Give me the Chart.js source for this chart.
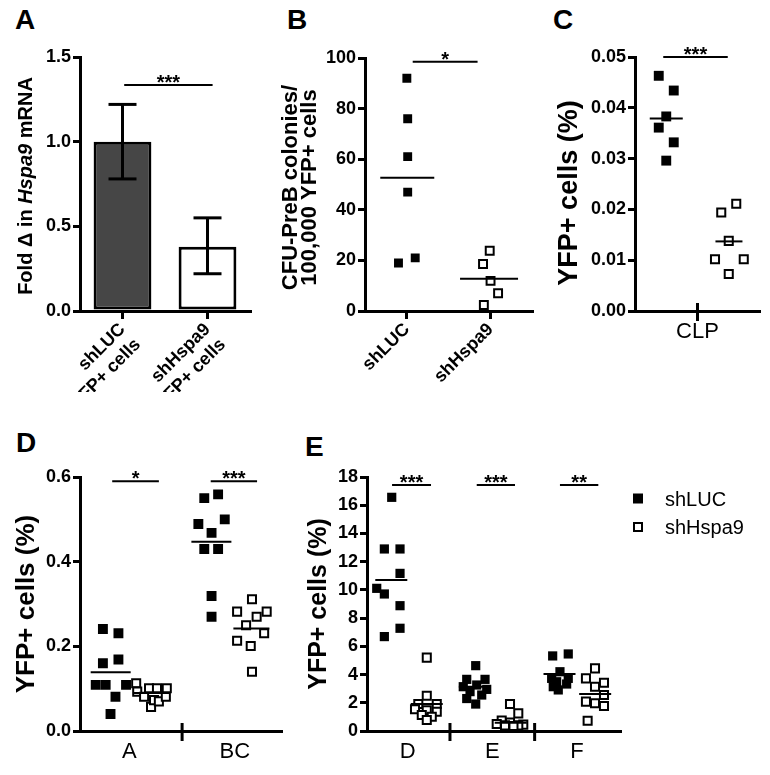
<!DOCTYPE html>
<html>
<head>
<meta charset="utf-8">
<script src="https://cdn.jsdelivr.net/npm/chart.js@4.4.1/dist/chart.umd.min.js"></script>
<style>
  body { margin: 0; background: #fff; }
  #page { position: relative; width: 770px; height: 775px; overflow: hidden; font-family: "Liberation Sans", Arial, sans-serif; }
  canvas { position: absolute; }
  .tag { position: absolute; font-size: 28px; font-weight: bold; line-height: 28px; }
</style>
</head>
<body>
<div id="page">
  <div class="tag" style="left:15px;top:6px">A</div>
  <div class="tag" style="left:287px;top:6px">B</div>
  <div class="tag" style="left:553px;top:6px">C</div>
  <div class="tag" style="left:16px;top:429px">D</div>
  <div class="tag" style="left:305px;top:433px">E</div>
  <canvas id="chartA" width="260" height="362" style="left:0;top:30px"></canvas>
  <canvas id="chartB" width="290" height="370" style="left:250px;top:30px"></canvas>
  <canvas id="chartC" width="230" height="370" style="left:540px;top:30px"></canvas>
  <canvas id="chartD" width="290" height="355" style="left:0;top:420px"></canvas>
  <canvas id="chartE" width="480" height="355" style="left:290px;top:420px"></canvas>
</div>
<script>
// ---------- data ----------
// A: fold change in Hspa9 mRNA
const aLabels = [['shLUC', 'YFP+ cells'], ['shHspa9', 'YFP+ cells']];
const aValues = [1.0, 0.38];
const aErrLow = [0.78, 0.22];
const aErrHigh = [1.22, 0.55];
const aSig = [[0.02, 1.06, 1.335, '***']];

// B: CFU-PreB colonies
const bLabels = ['shLUC', 'shHspa9'];
const bLuc = [92, 76, 61, 47, 19, 21];
const bLucX = [0, 0.01, 0.01, 0.01, -0.1, 0.1];
const bHspa = [23.8, 18.6, 11.9, 7.0, 2.4];
const bHspaX = [0.99, 0.91, 1.0, 1.09, 0.92];
const bMeans = [[52.7], [12.7]];
const bSig = [[0.07, 0.845, 98.5, '*']];

// C: CLP
const cLabels = ['CLP'];
const cLuc = [0.0463, 0.0434, 0.0383, 0.0361, 0.0332, 0.0296];
const cLucX = [-0.31, -0.19, -0.25, -0.31, -0.19, -0.25];
const cHspa = [0.0211, 0.0194, 0.0138, 0.0102, 0.0102, 0.0073];
const cHspaX = [0.31, 0.19, 0.25, 0.14, 0.37, 0.25];
const cMeans = [[0.0379], [0.0137]];
const cSig = [[-0.274, 0.242, 0.05, '***']];

// D: fractions A and BC
const dLabels = ['A', 'BC'];
const dLuc = [0.241, 0.231, 0.160, 0.169, 0.109, 0.109, 0.109, 0.081, 0.040,
              0.559, 0.550, 0.500, 0.489, 0.468, 0.430, 0.430, 0.319, 0.270];
const dLucX = [0.750, 0.897, 0.750, 0.897, 0.682, 0.776, 0.969, 0.869, 0.822,
               1.841, 1.710, 1.904, 1.654, 1.779, 1.710, 1.841, 1.779, 1.779];
const dHspa = [0.113, 0.093, 0.081, 0.101, 0.057, 0.073, 0.101, 0.070, 0.081, 0.101,
               0.311, 0.282, 0.282, 0.270, 0.250, 0.231, 0.213, 0.201, 0.140];
const dHspaX = [1.065, 1.075, 1.140, 1.187, 1.206, 1.234, 1.262, 1.280, 1.346, 1.355,
                2.162, 2.021, 2.301, 2.206, 2.106, 2.277, 2.021, 2.150, 2.162];
const dMeans = [[0.139, 0.447], [0.090, 0.242]];
const dSig = [[0.838, 1.28, 0.59, '*'], [1.771, 2.21, 0.59, '***']];

// E: fractions D, E, F
const eLabels = ['D', 'E', 'F'];
const eLuc = [16.56, 12.90, 12.90, 11.17, 10.11, 9.71, 8.88, 7.28, 6.69,
              4.63, 3.66, 3.66, 3.26, 3.14, 2.95, 2.79, 2.55, 2.30, 1.91,
              5.32, 5.46, 4.20, 3.73, 3.73, 3.49, 3.33, 3.14, 2.91];
const eLucX = [0.812, 0.725, 0.910, 0.910, 0.635, 0.725, 0.910, 0.910, 0.725,
               1.804, 1.698, 1.914, 1.816, 1.657, 1.934, 1.737, 1.875, 1.698, 1.804,
               2.713, 2.897, 2.799, 2.701, 2.897, 2.760, 2.878, 2.720, 2.779];
const eHspa = [5.20, 2.50, 1.91, 1.91, 1.54, 1.47, 1.37, 1.13, 1.01, 0.78,
               1.91, 1.25, 0.75, 0.60, 0.50, 0.45, 0.40, 0.40, 0.35,
               4.44, 3.73, 3.42, 3.14, 2.55, 2.08, 1.96, 1.77, 0.73];
const eHspaX = [1.226, 1.226, 1.126, 1.344, 1.087, 1.226, 1.344, 1.167, 1.285, 1.226,
                2.209, 2.307, 2.111, 2.209, 2.052, 2.366, 2.150, 2.307, 2.250,
                3.213, 3.106, 3.319, 3.213, 3.319, 3.106, 3.213, 3.319, 3.126];
const eMeans = [[10.70, 3.14, 4.04], [1.91, 0.59, 2.62]];
const eSig = [[0.816, 1.276, 17.43, '***'], [1.816, 2.268, 17.43, '***'], [2.799, 3.252, 17.43, '**']];

// ---------- helpers ----------
const FONT = '"Liberation Sans", Arial, sans-serif';
Chart.defaults.font.family = FONT;
Chart.defaults.color = '#000';
Chart.defaults.animation = false;
Chart.defaults.events = [];
Chart.defaults.plugins.legend.display = false;
Chart.defaults.plugins.tooltip.enabled = false;

const avg = a => a.reduce((s, v) => s + v, 0) / a.length;
function line(ctx, x1, y1, x2, y2) { ctx.beginPath(); ctx.moveTo(x1, y1); ctx.lineTo(x2, y2); ctx.stroke(); }

function pts(ys, xs) { return ys.map((v, i) => ({ x: xs[i], y: v })); }

// one mean line per category group, centred on that group's points
function meanMarks(xs, means, half) {
  const cats = [...new Set(xs.map(v => Math.round(v) + 0))].sort((a, b) => a - b);
  return cats.map((c, k) => ({ x: avg(xs.filter(v => Math.round(v) + 0 === c)), y: means[k], half }));
}

const filled = (data, r) => ({ data, pointStyle: 'rect', pointRadius: r, backgroundColor: '#000', borderWidth: 0, label: 'shLUC' });
const open = (data, r) => ({ data, pointStyle: 'rect', pointRadius: r, backgroundColor: '#fff', borderColor: '#000', borderWidth: 2, label: 'shHspa9' });

function yScale(min, max, step, digits, width) {
  return {
    min, max,
    afterFit: s => { s.width = width; },
    ticks: { stepSize: step, padding: 2, font: { size: 18, weight: 'bold' }, callback: v => v.toFixed(digits) },
    grid: { drawOnChartArea: false, tickLength: 7, lineWidth: 3, color: '#000' },
    border: { width: 3, color: '#000' }
  };
}

function xGroups(min, max, labels, start, height, rotated) {
  return {
    type: 'linear', min, max,
    afterBuildTicks: s => { s.ticks = labels.map((l, i) => ({ value: start + i })); },
    afterFit: s => { s.height = height; },
    ticks: rotated
      ? { autoSkip: false, minRotation: 45, maxRotation: 45, padding: 0, font: { size: 18, weight: 'bold' }, callback: v => labels[Math.round(v) - start] }
      : { autoSkip: false, minRotation: 0, maxRotation: 0, padding: 8, font: { size: 22 }, callback: v => labels[Math.round(v) - start] },
    grid: rotated
      ? { drawOnChartArea: false, tickLength: 8, lineWidth: 3, color: '#000' }
      : { display: false, drawTicks: false },
    border: { width: 3, color: '#000' }
  };
}

function drawTitle(ctx, area, t) {
  const cy = (area.top + area.bottom) / 2 + (t.dy || 0);
  t.lines.forEach((parts, li) => {
    ctx.save();
    ctx.translate(t.x + li * (t.lh || 0), cy);
    ctx.rotate(-Math.PI / 2);
    const fonts = parts.map(p => (p[1] ? 'italic ' : '') + 'bold ' + t.size + 'px ' + FONT);
    let total = 0;
    const widths = parts.map((p, i) => { ctx.font = fonts[i]; const w = ctx.measureText(p[0]).width; total += w; return w; });
    let x = -total / 2;
    ctx.textBaseline = 'middle';
    ctx.textAlign = 'left';
    ctx.fillStyle = '#000';
    parts.forEach((p, i) => { ctx.font = fonts[i]; ctx.fillText(p[0], x, 0); x += widths[i]; });
    ctx.restore();
  });
}

// error bars, mean lines, significance bars, category dividers, titles, legend
const extras = {
  id: 'extras',
  afterDatasetsDraw(chart, args, o) {
    const ctx = chart.ctx, xs = chart.scales.x, ys = chart.scales.y, area = chart.chartArea;
    ctx.save();
    ctx.strokeStyle = '#000';
    ctx.fillStyle = '#000';
    if (o.errors) {
      ctx.lineWidth = 3;
      o.errors.low.forEach((lo, i) => {
        const px = xs.getPixelForValue(i);
        const p1 = ys.getPixelForValue(lo), p2 = ys.getPixelForValue(o.errors.high[i]);
        line(ctx, px, p1, px, p2);
        line(ctx, px - o.errors.cap, p1, px + o.errors.cap, p1);
        line(ctx, px - o.errors.cap, p2, px + o.errors.cap, p2);
      });
    }
    (o.means || []).forEach(m => {
      const cx = xs.getPixelForValue(m.x), py = ys.getPixelForValue(m.y);
      ctx.lineWidth = 2;
      line(ctx, cx - m.half, py, cx + m.half, py);
    });
    (o.sig || []).forEach(s => {
      const x1 = xs.getPixelForValue(s[0]), x2 = xs.getPixelForValue(s[1]), py = ys.getPixelForValue(s[2]);
      ctx.lineWidth = 2;
      line(ctx, x1, py, x2, py);
      ctx.font = 'bold 20px ' + FONT;
      ctx.textAlign = 'center';
      ctx.textBaseline = 'alphabetic';
      ctx.fillText(s[3], (x1 + x2) / 2, py + 4);
    });
    (o.dividers || []).forEach(v => {
      const px = xs.getPixelForValue(v);
      ctx.lineWidth = 3;
      line(ctx, px, area.bottom - 8, px, area.bottom + 10);
    });
    ctx.restore();
  },
  afterDraw(chart, args, o) {
    const ctx = chart.ctx, area = chart.chartArea;
    if (o.title) drawTitle(ctx, area, o.title);
    if (o.legend) {
      ctx.save();
      o.legend.items.forEach(it => {
        const ds = chart.data.datasets[it.ds];
        const x = area.right + o.legend.dx, y = area.top + it.dy;
        ctx.fillStyle = ds.backgroundColor;
        ctx.fillRect(x - 5, y - 5, 10, 10);
        if (ds.borderWidth) {
          ctx.strokeStyle = ds.borderColor;
          ctx.lineWidth = ds.borderWidth;
          ctx.strokeRect(x - 4, y - 4, 8, 8);
        }
        ctx.fillStyle = '#000';
        ctx.font = '20px ' + FONT;
        ctx.textAlign = 'left';
        ctx.textBaseline = 'alphabetic';
        ctx.fillText(ds.label, area.right + o.legend.tx, y + 7);
      });
      ctx.restore();
    }
  }
};

// ---------- A ----------
new Chart(document.getElementById('chartA'), {
  type: 'bar',
  data: {
    labels: aLabels,
    datasets: [{
      data: aValues,
      backgroundColor: ['#464646', '#ffffff'],
      borderColor: '#000', borderWidth: 3, borderSkipped: false,
      barPercentage: 0.68, categoryPercentage: 1
    }]
  },
  options: {
    responsive: false,
    layout: { padding: { top: 27, right: 10, left: 0, bottom: 0 } },
    scales: {
      x: {
        offset: true,
        afterFit: s => { s.height = 81; },
        ticks: { autoSkip: false, minRotation: 45, maxRotation: 45, padding: 0, font: { size: 18, weight: 'bold' } },
        grid: { offset: false, drawOnChartArea: false, tickLength: 8, lineWidth: 3, color: '#000' },
        border: { width: 3, color: '#000' }
      },
      y: yScale(0, 1.5, 0.5, 1, 80)
    },
    plugins: {
      extras: {
        errors: { low: aErrLow, high: aErrHigh, cap: 14 },
        sig: aSig,
        title: { x: 26, dy: 2, size: 20, lines: [[['Fold \u0394 in ', false], ['Hspa9', true], [' mRNA', false]]] }
      }
    }
  },
  plugins: [extras]
});

// ---------- B ----------
new Chart(document.getElementById('chartB'), {
  type: 'scatter',
  data: { datasets: [filled(pts(bLuc, bLucX), 6.3), open(pts(bHspa, bHspaX), 5.6)] },
  options: {
    responsive: false,
    layout: { padding: { top: 28, right: 7, left: 0, bottom: 0 } },
    scales: {
      x: xGroups(-0.5, 1.5, bLabels, 0, 89, true),
      y: yScale(0, 100, 20, 0, 115)
    },
    plugins: {
      extras: {
        means: [...meanMarks(bLucX, bMeans[0], 27), ...meanMarks(bHspaX, bMeans[1], 29)],
        sig: bSig,
        title: { x: 41, lh: 19, dy: 3, size: 22, lines: [[['CFU-PreB colonies/', false]], [['100,000 YFP+ cells', false]]] }
      }
    }
  },
  plugins: [extras]
});

// ---------- C ----------
new Chart(document.getElementById('chartC'), {
  type: 'scatter',
  data: { datasets: [filled(pts(cLuc, cLucX), 7), open(pts(cHspa, cHspaX), 5.7)] },
  options: {
    responsive: false,
    layout: { padding: { top: 27, right: 10, left: 0, bottom: 0 } },
    scales: {
      x: xGroups(-0.5, 0.5, cLabels, 0, 89, false),
      y: yScale(0, 0.05, 0.01, 2, 95)
    },
    plugins: {
      extras: {
        means: [...meanMarks(cLucX, cMeans[0], 16.5), ...meanMarks(cHspaX, cMeans[1], 13.5)],
        sig: cSig,
        dividers: [0],
        title: { x: 30, dy: 9, size: 27, lines: [[['YFP+ cells (%)', false]]] }
      }
    }
  },
  plugins: [extras]
});

// ---------- D ----------
new Chart(document.getElementById('chartD'), {
  type: 'scatter',
  data: { datasets: [filled(pts(dLuc, dLucX), 7), open(pts(dHspa, dHspaX), 5.7)] },
  options: {
    responsive: false,
    layout: { padding: { top: 57, right: 5, left: 0, bottom: 0 } },
    scales: {
      x: xGroups(0.533, 2.449, dLabels, 1, 44, false),
      y: yScale(0, 0.6, 0.2, 1, 80)
    },
    plugins: {
      extras: {
        means: [...meanMarks(dLucX, dMeans[0], 20), ...meanMarks(dHspaX, dMeans[1], 18)],
        sig: dSig,
        dividers: [1.5],
        title: { x: 27, size: 26, lines: [[['YFP+ cells (%)', false]]] }
      }
    }
  },
  plugins: [extras]
});

// ---------- E ----------
new Chart(document.getElementById('chartE'), {
  type: 'scatter',
  data: { datasets: [filled(pts(eLuc, eLucX), 6.5), open(pts(eHspa, eHspaX), 5.7)] },
  options: {
    responsive: false,
    layout: { padding: { top: 57, right: 149, left: 0, bottom: 0 } },
    scales: {
      x: xGroups(0.52, 3.52, eLabels, 1, 44, false),
      y: yScale(0, 18, 2, 0, 77)
    },
    plugins: {
      extras: {
        means: [...meanMarks(eLucX, eMeans[0], 16), ...meanMarks(eHspaX, eMeans[1], 16)],
        sig: eSig,
        dividers: [1.5, 2.5],
        title: { x: 29, size: 25, lines: [[['YFP+ cells (%)', false]]] },
        legend: { dx: 17, tx: 44, items: [{ ds: 0, dy: 21.5 }, { ds: 1, dy: 50 }] }
      }
    }
  },
  plugins: [extras]
});
</script>
</body>
</html>
